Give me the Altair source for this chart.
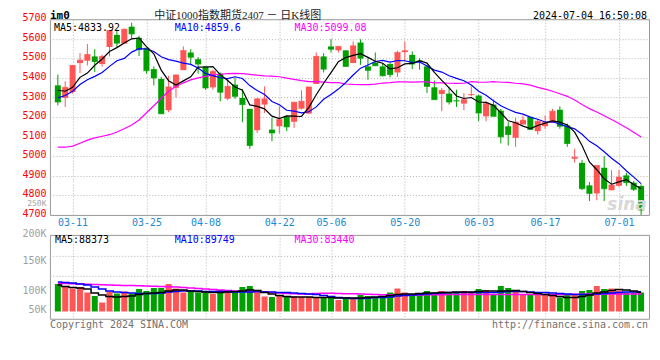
import json
import altair as alt
import pandas as pd

MONO = "DejaVu Sans Mono"
TITLE_FONT = "Liberation Serif, Noto Sans CJK SC"
RED = "#ff5555"
GREEN = "#00a000"
GRID = "#b4b4b4"
BLUE_LBL = "#1a8ad4"

dates = ["03-07", "03-08", "03-11", "03-12", "03-13", "03-14", "03-15", "03-18", "03-19", "03-20",
         "03-21", "03-22", "03-25", "03-26", "03-27", "03-28", "03-29", "04-01", "04-02", "04-03",
         "04-08", "04-09", "04-10", "04-11", "04-12", "04-15", "04-16", "04-17", "04-18", "04-19",
         "04-22", "04-23", "04-24", "04-25", "04-26", "04-29", "04-30", "05-06", "05-07", "05-08",
         "05-09", "05-10", "05-13", "05-14", "05-15", "05-16", "05-17", "05-20", "05-21", "05-22",
         "05-23", "05-24", "05-27", "05-28", "05-29", "05-30", "05-31", "06-03", "06-04", "06-05",
         "06-06", "06-07", "06-11", "06-12", "06-13", "06-14", "06-17", "06-18", "06-19", "06-20",
         "06-21", "06-24", "06-25", "06-26", "06-27", "06-28", "07-01", "07-02", "07-03", "07-04"]

opens = [5362, 5298, 5328, 5476, 5488, 5510, 5471, 5558, 5620, 5575,
         5662, 5605, 5554, 5445, 5395, 5235, 5350, 5440, 5530, 5496,
         5459, 5352, 5422, 5294, 5366, 5298, 5242, 5133, 5264, 5136,
         5153, 5201, 5176, 5243, 5218, 5369, 5510, 5561, 5541, 5541,
         5476, 5581, 5459, 5479, 5459, 5471, 5428, 5532, 5518, 5488,
         5459, 5352, 5318, 5320, 5285, 5269, 5312, 5310, 5204, 5264,
         5233, 5153, 5094, 5162, 5201, 5128, 5153, 5170, 5238, 5157,
         4987, 4966, 4851, 4810, 4941, 4826, 4849, 4902, 4865, 4848]
highs = [5417, 5383, 5466, 5527, 5573, 5547, 5518, 5642, 5646, 5652,
         5682, 5615, 5554, 5459, 5406, 5411, 5418, 5561, 5547, 5507,
         5459, 5442, 5428, 5400, 5400, 5344, 5242, 5298, 5357, 5196,
         5255, 5208, 5276, 5337, 5354, 5530, 5527, 5598, 5561, 5541,
         5586, 5598, 5501, 5530, 5476, 5476, 5539, 5586, 5535, 5501,
         5468, 5386, 5349, 5354, 5340, 5323, 5357, 5315, 5281, 5289,
         5242, 5174, 5196, 5208, 5201, 5191, 5208, 5242, 5255, 5167,
         5038, 4980, 4868, 4953, 5001, 4929, 4929, 4916, 4873, 4856]
lows = [5260, 5252, 5320, 5425, 5464, 5430, 5459, 5510, 5556, 5575,
        5600, 5512, 5422, 5362, 5218, 5225, 5300, 5440, 5467, 5422,
        5340, 5340, 5281, 5286, 5293, 5174, 5038, 5119, 5221, 5077,
        5116, 5128, 5145, 5238, 5218, 5369, 5428, 5530, 5530, 5459,
        5476, 5467, 5391, 5462, 5408, 5403, 5405, 5484, 5445, 5442,
        5323, 5289, 5230, 5264, 5252, 5235, 5306, 5179, 5179, 5204,
        5065, 5055, 5048, 5162, 5136, 5111, 5140, 5170, 5140, 5048,
        4967, 4827, 4771, 4775, 4771, 4826, 4844, 4848, 4822, 4700]
closes = [5277, 5352, 5464, 5491, 5520, 5484, 5510, 5642, 5578, 5649,
          5625, 5545, 5437, 5400, 5217, 5354, 5415, 5540, 5506, 5471,
          5349, 5433, 5327, 5357, 5306, 5264, 5055, 5293, 5293, 5119,
          5187, 5150, 5276, 5281, 5354, 5510, 5445, 5547, 5561, 5459,
          5564, 5501, 5439, 5462, 5411, 5417, 5530, 5539, 5471, 5485,
          5357, 5289, 5337, 5277, 5282, 5289, 5315, 5221, 5269, 5204,
          5099, 5111, 5174, 5184, 5136, 5179, 5174, 5230, 5153, 5065,
          4995, 4834, 4810, 4953, 4834, 4853, 4893, 4865, 4831, 4725]

ma5 = [5337, 5332, 5352, 5403, 5425, 5465, 5497, 5535, 5555, 5578,
       5600, 5604, 5560, 5523, 5440, 5386, 5364, 5385, 5406, 5455,
       5456, 5458, 5417, 5387, 5354, 5337, 5262, 5255, 5242, 5205,
       5192, 5206, 5205, 5203, 5250, 5314, 5373, 5427, 5483, 5504,
       5515, 5524, 5505, 5485, 5475, 5446, 5452, 5472, 5474, 5488,
       5476, 5428, 5388, 5349, 5308, 5295, 5300, 5277, 5275, 5260,
       5222, 5181, 5171, 5154, 5141, 5157, 5169, 5181, 5174, 5160,
       5123, 5055, 4971, 4931, 4885, 4857, 4869, 4880, 4855, 4834]
ma10 = [5298, 5310, 5332, 5366, 5391, 5408, 5428, 5459, 5488, 5500,
        5532, 5550, 5548, 5535, 5508, 5494, 5486, 5476, 5469, 5451,
        5423, 5412, 5401, 5397, 5406, 5397, 5361, 5336, 5315, 5280,
        5263, 5235, 5230, 5222, 5227, 5252, 5291, 5316, 5343, 5377,
        5415, 5450, 5466, 5484, 5490, 5481, 5489, 5488, 5479, 5482,
        5461, 5440, 5430, 5411, 5398, 5386, 5364, 5332, 5312, 5284,
        5258, 5240, 5224, 5215, 5200, 5189, 5175, 5176, 5164, 5151,
        5140, 5112, 5076, 5053, 5023, 4990, 4962, 4926, 4893, 4860]
ma30 = [5046, 5046, 5052, 5066, 5082, 5094, 5102, 5110, 5124, 5140,
        5160, 5185, 5222, 5258, 5296, 5332, 5356, 5375, 5390, 5400,
        5408, 5415, 5419, 5422, 5423, 5422, 5418, 5414, 5411, 5409,
        5406, 5399, 5393, 5386, 5381, 5381, 5379, 5376, 5376, 5369,
        5367, 5366, 5366, 5368, 5374, 5376, 5380, 5380, 5379, 5380,
        5380, 5375, 5375, 5373, 5372, 5373, 5381, 5379, 5378, 5381,
        5378, 5377, 5373, 5370, 5363, 5352, 5343, 5332, 5319, 5306,
        5287, 5264, 5243, 5226, 5207, 5188, 5167, 5145, 5123, 5098]

# volume in thousands
vol = [105, 100, 96, 99, 88, 81, 68, 90, 86, 90,
       86, 95, 91, 97, 97, 105, 96, 88, 91, 88,
       88, 85, 93, 93, 89, 99, 101, 93, 80, 79,
       81, 81, 80, 79, 79, 79, 79, 78, 73, 75,
       75, 83, 81, 79, 79, 88, 96, 88, 85, 86,
       91, 88, 91, 88, 89, 91, 87, 95, 93, 83,
       101, 97, 93, 83, 83, 88, 83, 83, 78, 83,
       85, 91, 93, 101, 95, 96, 92, 88, 88, 88]
vma5 = [103, 100, 98, 97, 95, 87, 83, 80, 79, 80,
        81, 84, 86, 87, 88, 91, 93, 93, 91, 90,
        89, 88, 88, 89, 90, 91, 93, 92, 88, 85,
        82, 80, 79, 79, 79, 78, 78, 78, 77, 77,
        77, 77, 78, 79, 80, 82, 84, 85, 85, 86,
        87, 87, 88, 88, 89, 89, 89, 90, 91, 91,
        91, 91, 92, 90, 88, 86, 84, 82, 80, 78,
        78, 80, 83, 87, 89, 92, 94, 93, 91, 88.4]
vma10 = [109, 108, 107, 105, 103, 99, 95, 91, 89, 88,
         87, 86, 86, 86, 87, 89, 90, 91, 91, 91,
         90, 90, 90, 90, 89, 89, 89, 90, 89, 89,
         88, 88, 87, 86, 85, 84, 82, 80, 78, 77,
         76, 76, 77, 78, 78, 79, 81, 82, 83, 84,
         85, 86, 87, 88, 88, 88, 88, 88, 88, 88,
         89, 90, 90, 90, 89, 88, 88, 87, 86, 85,
         84, 84, 84, 85, 86, 87, 88, 89, 89, 89.7]
vma30 = [106, 106, 105.5, 105, 104.5, 104, 103.5, 103, 102.5, 102,
         102, 101.5, 101, 100.5, 100, 99.5, 99, 98, 97, 96,
         95, 94, 93, 92, 91, 90.5, 90, 89.5, 89, 88,
         87, 86, 85.5, 85, 85, 86, 86.5, 86.5, 86, 85.5,
         85.5, 85, 84.5, 84, 83.5, 83.5, 83, 83, 83, 83,
         83.5, 83.5, 83.5, 84, 84, 84, 84, 84, 84, 84,
         84, 84, 84, 84, 84, 84, 84, 84, 84, 84,
         84.5, 84.5, 85, 85, 85, 85, 85, 85, 85, 85]

tick_dates = ["03-11", "03-25", "04-08", "04-22", "05-06", "05-20", "06-03", "06-17", "07-01"]
price_ticks = [4700, 4800, 4900, 5000, 5100, 5200, 5300, 5400, 5500, 5600, 5700]
vol_tag_value = 4749  # where the stray "250K" volume tag sits on the price axis

title_text = "中证1000指数期货2407 － 日K线图"
symbol_text = "im0"
stamp_text = "2024-07-04 16:50:08"
legend_price = ["MA5:4833.92", "MA10:4859.6", "MA30:5099.08"]
legend_vol = ["MA5:88373", "MA10:89749", "MA30:83440"]
copyright_text = "Copyright 2024 SINA.COM"
url_text = "http://finance.sina.com.cn"

n = len(dates)
df = pd.DataFrame({
    "i": list(range(n)), "date": dates, "open": opens, "high": highs, "low": lows,
    "close": closes, "ma5": ma5, "ma10": ma10, "ma30": ma30,
    "vol": vol, "vma5": vma5, "vma10": vma10, "vma30": vma30,
})
df["dir"] = ["up" if c >= o else "down" for o, c in zip(opens, closes)]

x_scale = alt.Scale(domain=[-0.395, n - 1 + 0.395], nice=False, zero=False)
tick_idx = [dates.index(d) for d in tick_dates]
label_expr = json.dumps(dates) + "[datum.value]"

x_axis_price = alt.Axis(values=tick_idx, labelExpr=label_expr, grid=True, gridColor=GRID,
                        gridDash=[1, 2], gridWidth=1, domain=False, ticks=False,
                        labelColor=BLUE_LBL, labelFont=MONO, labelFontSize=10, labelPadding=3,
                        labelFlush=False, labelOverlap=False, title=None)
x_axis_vol = alt.Axis(values=tick_idx, grid=True, gridColor=GRID, gridDash=[1, 2], gridWidth=1,
                      domain=False, ticks=False, labels=False, title=None)

tag_test = f"datum.value == {vol_tag_value}"
y_scale = alt.Scale(domain=[4700, 5700], nice=False, zero=False)
y_axis = alt.Axis(values=price_ticks + [vol_tag_value], format="d",
                  labelExpr=f"{tag_test} ? '250K' : datum.label",
                  grid=True, gridColor=GRID, gridDash=[1, 2], gridWidth=1,
                  gridOpacity={"condition": {"test": f"{tag_test} || datum.value == 4700 || datum.value == 5700", "value": 0}, "value": 1},
                  labelColor={"condition": {"test": tag_test, "value": "#a0a0a0"}, "value": "#ff0000"},
                  labelFontSize={"condition": {"test": tag_test, "value": 8}, "value": 10},
                  domain=False, ticks=False, labelFont=MONO, labelPadding=4,
                  labelOffset=-1.5, labelOverlap=False, title=None)

color_enc = alt.Color("dir:N", scale=alt.Scale(domain=["up", "down"], range=[RED, GREEN]), legend=None)


def X(axis):
    return alt.X("i:Q", scale=x_scale, axis=axis, title=None)


def label(text, x, y, color="#000000", align="left", size=10, font=MONO, weight="normal",
          baseline="middle", italic=False):
    return alt.Chart(pd.DataFrame({"t": [text]})).mark_text(
        align=align, baseline=baseline, font=font, fontSize=size, color=color,
        fontWeight=weight, fontStyle="italic" if italic else "normal",
    ).encode(x=alt.value(x), y=alt.value(y), text="t:N")


cb = alt.Chart(df)
wick = cb.mark_rule(strokeWidth=1).encode(
    x=X(x_axis_price), y=alt.Y("low:Q", scale=y_scale, axis=y_axis, title=None), y2="high:Q", color=color_enc)
body = cb.mark_bar(size=6).encode(
    x=X(x_axis_price), y=alt.Y("open:Q", scale=y_scale, axis=y_axis, title=None), y2="close:Q", color=color_enc)
doji = cb.mark_tick(orient="horizontal", thickness=1, size=6).encode(
    x=X(x_axis_price), y=alt.Y("close:Q", scale=y_scale, axis=y_axis, title=None), color=color_enc)


def ma_line(field, color):
    return cb.mark_line(color=color, strokeWidth=1.2).encode(
        x=X(x_axis_price), y=alt.Y(f"{field}:Q", scale=y_scale, axis=y_axis, title=None))


price = alt.layer(
    wick, body, doji,
    ma_line("ma30", "#ff00ff"), ma_line("ma10", "#0000ff"), ma_line("ma5", "#000000"),
    label("sina", 578, 186, color="#d8d8d8", align="center", size=17, font="DejaVu Sans",
          weight="bold", italic=True),
    label(legend_price[0], 4, 8.5, color="#000000"),
    label(legend_price[1], 125, 8.5, color="#0000ff"),
    label(legend_price[2], 245, 8.5, color="#ff00ff"),
    label(symbol_text, 0, 0, color="#000000", size=11, weight="bold", baseline="alphabetic"),
    label(title_text, 188, 0, color="#222222", align="center", size=11, font=TITLE_FONT,
          baseline="alphabetic"),
    label(stamp_text, 598, 0, color="#000000", align="right", size=10, baseline="alphabetic"),
).properties(width=600, height=196)

vy_scale = alt.Scale(domain=[35.4, 203.4], nice=False, zero=False)
vy_axis = alt.Axis(values=[51.4, 89.4, 120.8, 149.4, 161.4, 203.3],
                   labelExpr="datum.value == 51.4 ? '50K' : datum.value == 89.4 ? '100K' : datum.value == 149.4 ? '150K' : datum.value == 203.3 ? '200K' : ''",
                   grid=True, gridColor=GRID, gridDash=[1, 2], gridWidth=1,
                   gridOpacity={"condition": {"test": "datum.value == 120.8 || datum.value == 161.4", "value": 1}, "value": 0},
                   domain=False, ticks=False, labelColor="#a0a0a0", labelFont=MONO, labelFontSize=10,
                   labelPadding=4, labelOffset=-1.5, labelOverlap=False, title=None)

vb = alt.Chart(df)
vbars = vb.mark_bar(size=6).encode(
    x=X(x_axis_vol), y=alt.Y("vol:Q", scale=vy_scale, axis=vy_axis, title=None), y2=alt.datum(50),
    color=color_enc)


def vma_line(field, color):
    return vb.mark_line(color=color, strokeWidth=1.5, interpolate="step").encode(
        x=X(x_axis_vol), y=alt.Y(f"{field}:Q", scale=vy_scale, axis=vy_axis, title=None))


volume = alt.layer(
    vbars,
    vma_line("vma30", "#ff00ff"), vma_line("vma10", "#0000ff"), vma_line("vma5", "#000000"),
    label(legend_vol[0], 5, 5, color="#000000"),
    label(legend_vol[1], 125, 5, color="#0000ff"),
    label(legend_vol[2], 245, 5, color="#ff00ff"),
    label(copyright_text, 0, 90, color="#707070"),
    label(url_text, 599, 90, color="#707070", align="right"),
).properties(width=600, height=84)

chart = alt.vconcat(price, volume, spacing=20, bounds="flush").properties(
    padding={"left": 13, "top": 1, "right": 2, "bottom": 2},
    background="white",
).configure_view(stroke="#999999", strokeWidth=1)

chart.save("out.html", embed_options={"renderer": "svg", "actions": False})
